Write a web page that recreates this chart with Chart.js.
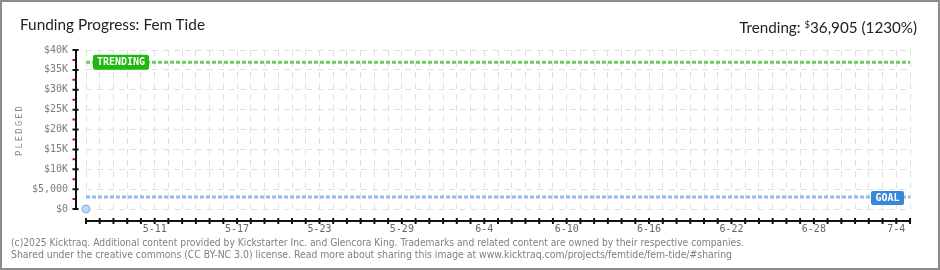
<!DOCTYPE html>
<html>
<head>
<meta charset="utf-8">
<script src="https://cdn.jsdelivr.net/npm/chart.js@4.4.1/dist/chart.umd.min.js"></script>
<style>
  html, body { margin: 0; padding: 0; background: #fff; }
  #wrap { position: relative; width: 940px; height: 270px; overflow: hidden; }
  #frame { position: absolute; left: 0; top: 0; width: 940px; height: 270px; box-sizing: border-box; border: 2px solid #8c8c8c; pointer-events: none; }
  canvas { position: absolute; left: 0; top: 0; }
  .txt { position: absolute; white-space: nowrap; }
  .head { font-family: Lato, sans-serif; font-size: 16px; line-height: 16px; color: #222; top: 16px; }
  .foot { font-family: "DejaVu Sans", sans-serif; font-size: 10px; line-height: 12px; color: #7f7f7f; left: 11px; }
  sup { font-size: 10px; vertical-align: 5px; }
</style>
</head>
<body>
<div id="wrap">
  <canvas id="chart" width="940" height="270"></canvas>
  <div class="txt head" id="title" style="left:20px"></div>
  <div class="txt head" id="trend" style="right:23px"></div>
  <div class="txt foot" id="foot1" style="top:237px">(c)2025 Kicktraq. Additional content provided by Kickstarter Inc. and Glencora King. Trademarks and related content are owned by their respective companies.</div>
  <div class="txt foot" id="foot2" style="top:249px">Shared under the creative commons (CC BY-NC 3.0) license. Read more about sharing this image at www.kicktraq.com/projects/femtide/fem-tide/#sharing</div>
  <div id="frame"></div>
</div>
<script>
// project
const projectName = 'Fem Tide';
const goal = 3000;
const trending = 36905;
const trendingPct = 1230;

// days on the x axis (5-6 .. 7-5)
const days = ['5-6','5-7','5-8','5-9','5-10','5-11','5-12','5-13','5-14','5-15','5-16','5-17','5-18','5-19','5-20','5-21','5-22','5-23','5-24','5-25','5-26','5-27','5-28','5-29','5-30','5-31',
  '6-1','6-2','6-3','6-4','6-5','6-6','6-7','6-8','6-9','6-10','6-11','6-12','6-13','6-14','6-15','6-16','6-17','6-18','6-19','6-20','6-21','6-22','6-23','6-24','6-25','6-26','6-27','6-28','6-29','6-30',
  '7-1','7-2','7-3','7-4','7-5'];
const shownDays = ['5-11','5-17','5-23','5-29','6-4','6-10','6-16','6-22','6-28','7-4'];

// pledged so far (one day of data)
const pledged = [0];

const yTicks = [0, 5000, 10000, 15000, 20000, 25000, 30000, 35000, 40000];
const yTickLabels = ['$0','$5,000','$10K','$15K','$20K','$25K','$30K','$35K','$40K'];

document.getElementById('title').textContent = 'Funding Progress: ' + projectName;
document.getElementById('trend').innerHTML = 'Trending: <sup>$</sup>' + trending.toLocaleString('en-US') + ' (' + trendingPct + '%)';

function fit(id, w, origin) {
  const el = document.getElementById(id);
  const nat = el.getBoundingClientRect().width;
  el.style.transformOrigin = origin + ' top';
  el.style.transform = 'scaleX(' + (w / nat) + ')';
}
fit('title', 185, 'left');
fit('trend', 178, 'right');
fit('foot1', 733, 'left');
fit('foot2', 721, 'left');

function tag(ctx, text, x, y, w, h, color) {
  ctx.fillStyle = color;
  ctx.beginPath();
  ctx.roundRect(x, y, w, h, 2);
  ctx.fill();
  ctx.fillStyle = '#fff';
  ctx.font = 'bold 10px "DejaVu Sans Mono", monospace';
  ctx.textAlign = 'center';
  ctx.textBaseline = 'middle';
  ctx.fillText(text, x + w / 2, y + h / 2 + 0.5);
}

const kAxes = {
  id: 'kAxes',
  afterDatasetsDraw(chart) {
    const { ctx, scales: { x, y } } = chart;
    const ax = x.left - 10;
    const ay = y.bottom + 12;
    ctx.save();
    ctx.lineWidth = 2;
    ctx.strokeStyle = '#111';
    ctx.beginPath();
    ctx.moveTo(ax, y.getPixelForValue(40000));
    ctx.lineTo(ax, y.getPixelForValue(0) + 1);
    yTicks.forEach(v => {
      const py = y.getPixelForValue(v);
      ctx.moveTo(ax - 3.5, py); ctx.lineTo(ax + 2.5, py);
    });
    ctx.stroke();
    ctx.strokeStyle = '#e00000';
    ctx.beginPath();
    for (let i = 0; i < yTicks.length - 1; i++) {
      const py = y.getPixelForValue((yTicks[i] + yTicks[i + 1]) / 2);
      ctx.moveTo(ax - 3.5, py); ctx.lineTo(ax - 1, py);
    }
    ctx.stroke();
    // x axis
    ctx.strokeStyle = '#111';
    ctx.beginPath();
    ctx.moveTo(x.getPixelForValue(0), ay);
    ctx.lineTo(x.right + 1, ay);
    days.forEach((d, i) => {
      const px = x.getPixelForValue(i);
      ctx.moveTo(px, ay - 3); ctx.lineTo(px, ay + 3);
    });
    ctx.stroke();
    // tags
    const ty = y.getPixelForValue(trending);
    tag(ctx, 'TRENDING', x.getPixelForValue(0) + 7, ty - 7.5, 56, 15, '#1fb80f');
    const gy = y.getPixelForValue(goal);
    tag(ctx, 'GOAL', x.right - 39, gy - 6, 33, 14, '#3a87d9');
    // axis title
    ctx.translate(20, 130);
    ctx.rotate(-Math.PI / 2);
    ctx.letterSpacing = '2px';
    ctx.fillStyle = '#8a8a8a';
    ctx.font = '9px "DejaVu Sans Mono", monospace';
    ctx.textAlign = 'center';
    ctx.textBaseline = 'middle';
    ctx.fillText('PLEDGED', 0, 0);
    ctx.restore();
  }
};

const gridColor = '#e0e0e0';
new Chart(document.getElementById('chart'), {
  type: 'line',
  data: {
    labels: days,
    datasets: [
      {
        label: 'Goal',
        data: [{ x: days[0], y: goal }, { x: days[days.length - 1], y: goal }],
        borderColor: '#93bbea', borderWidth: 3, borderDash: [4, 2], pointRadius: 0, clip: false
      },
      {
        label: 'Trending',
        data: [{ x: days[0], y: trending }, { x: days[days.length - 1], y: trending }],
        borderColor: '#6fcc62', borderWidth: 3, borderDash: [4, 2], pointRadius: 0, clip: false
      },
      {
        label: 'Pledged',
        data: pledged,
        borderColor: '#86acdc', backgroundColor: '#bed7f2', borderWidth: 1,
        pointRadius: 4, showLine: false, clip: false
      }
    ]
  },
  options: {
    responsive: false,
    animation: false,
    layout: { padding: { top: 50, right: 30, left: 0, bottom: 0 } },
    plugins: { legend: { display: false }, tooltip: { enabled: false } },
    scales: {
      x: {
        type: 'category',
        offset: false,
        grid: { color: gridColor, drawTicks: false },
        border: { display: false, dash: [6, 5] },
        ticks: {
          autoSkip: false, maxRotation: 0, padding: 14,
          color: '#666', font: { family: '"DejaVu Sans Mono", monospace', size: 10 },
          callback: (v, i) => shownDays.includes(days[i]) ? days[i] : ''
        },
        afterFit(s) { s.height = 61; }
      },
      y: {
        min: 0, max: 40000,
        grid: { color: gridColor, drawTicks: false },
        border: { display: false, dash: [6, 5] },
        ticks: {
          stepSize: 5000, padding: 18,
          color: '#7c7c7c', font: { family: '"DejaVu Sans Mono", monospace', size: 10 },
          callback: v => yTickLabels[yTicks.indexOf(v)]
        },
        afterFit(s) { s.width = 86; }
      }
    }
  },
  plugins: [kAxes]
});
</script>
</body>
</html>
